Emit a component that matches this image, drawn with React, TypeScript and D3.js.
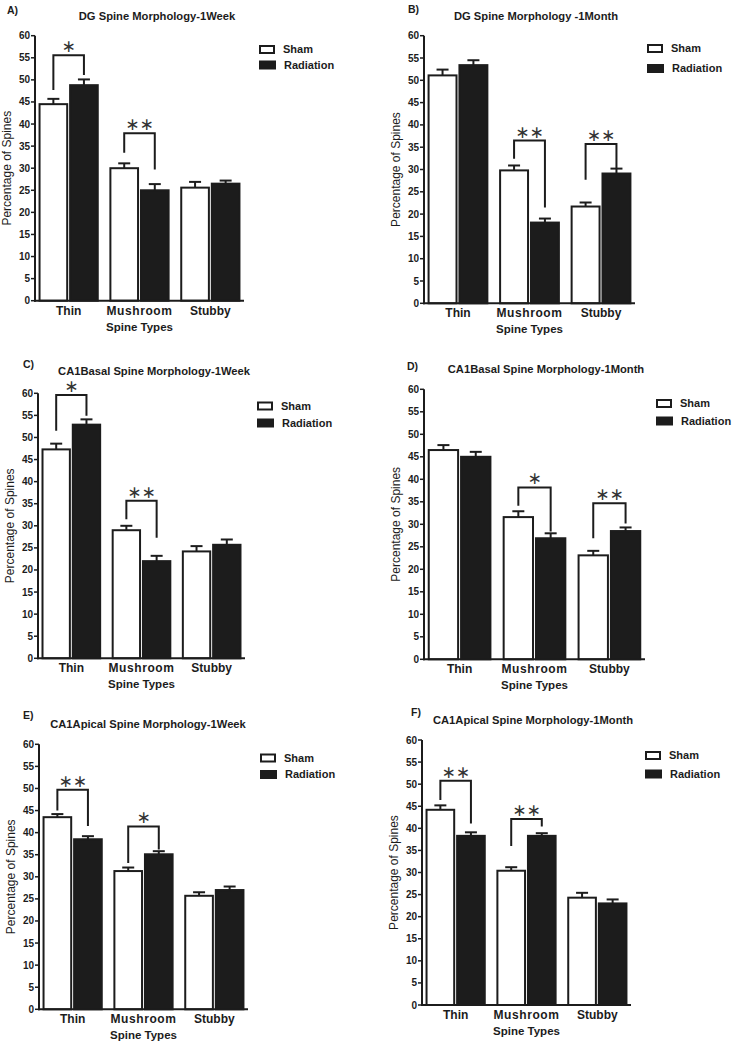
import React from 'react';
import * as d3 from 'd3';

// ---------- data ----------
const categories = ['Thin', 'Mushroom', 'Stubby'];
const seriesNames = ['Sham', 'Radiation'];
const yTicks = [0, 5, 10, 15, 20, 25, 30, 35, 40, 45, 50, 55, 60];

// A) DG 1 week
const dgWeekSham = [44.5, 30.0, 25.6];
const dgWeekShamErr = [1.2, 1.1, 1.3];
const dgWeekRad = [48.8, 25.0, 26.5];
const dgWeekRadErr = [1.3, 1.4, 0.7];
// B) DG 1 month
const dgMonthSham = [51.1, 29.8, 21.7];
const dgMonthShamErr = [1.3, 1.1, 0.9];
const dgMonthRad = [53.4, 18.1, 29.1];
const dgMonthRadErr = [1.1, 0.9, 1.1];
// C) CA1 basal 1 week
const basalWeekSham = [47.3, 29.0, 24.2];
const basalWeekShamErr = [1.3, 1.0, 1.2];
const basalWeekRad = [52.9, 22.0, 25.7];
const basalWeekRadErr = [1.2, 1.2, 1.2];
// D) CA1 basal 1 month
const basalMonthSham = [46.5, 31.6, 23.1];
const basalMonthShamErr = [1.1, 1.3, 1.0];
const basalMonthRad = [45.0, 26.9, 28.5];
const basalMonthRadErr = [1.1, 1.1, 0.8];
// E) CA1 apical 1 week
const apicalWeekSham = [43.5, 31.3, 25.7];
const apicalWeekShamErr = [0.7, 0.8, 0.8];
const apicalWeekRad = [38.5, 35.1, 27.0];
const apicalWeekRadErr = [0.7, 0.7, 0.8];
// F) CA1 apical 1 month
const apicalMonthSham = [44.2, 30.4, 24.3];
const apicalMonthShamErr = [1.0, 0.8, 1.1];
const apicalMonthRad = [38.3, 38.3, 23.0];
const apicalMonthRadErr = [0.8, 0.6, 0.9];

// significance brackets: [category, bracket top, left leg end, right leg end, stars]
const dgWeekSig: [string, number, number, number, string][] = [
  ['Thin', 55.6, 47.7, 51.1, '∗'],
  ['Mushroom', 37.9, 33.5, 29.7, '∗∗'],
];
const dgMonthSig: [string, number, number, number, string][] = [
  ['Mushroom', 36.5, 32.4, 21.5, '∗∗'],
  ['Stubby', 35.7, 27.7, 30.1, '∗∗'],
];
const basalWeekSig: [string, number, number, number, string][] = [
  ['Thin', 59.6, 51.5, 54.9, '∗'],
  ['Mushroom', 35.7, 31.5, 27.3, '∗∗'],
];
const basalMonthSig: [string, number, number, number, string][] = [
  ['Mushroom', 38.2, 34.1, 28.4, '∗'],
  ['Stubby', 34.7, 26.9, 30.2, '∗∗'],
];
const apicalWeekSig: [string, number, number, number, string][] = [
  ['Thin', 49.7, 45.0, 41.5, '∗∗'],
  ['Mushroom', 41.4, 33.1, 36.2, '∗'],
];
const apicalMonthSig: [string, number, number, number, string][] = [
  ['Thin', 50.8, 46.4, 41.1, '∗∗'],
  ['Mushroom', 42.1, 36.0, 40.4, '∗∗'],
];

// ---------- layout ----------
const panels = [
  { tag: 'A)', title: 'DG Spine Morphology-1Week', sham: dgWeekSham, shamErr: dgWeekShamErr, rad: dgWeekRad, radErr: dgWeekRadErr, sig: dgWeekSig,
    axisX: 35, right: 244, top: 35.7, bottom: 300.7, titleX: 157, titleDy: 16, tagX: 7, tagY: 14, legX: 259, legY1: 49.5, legY2: 65 },
  { tag: 'B)', title: 'DG Spine Morphology -1Month', sham: dgMonthSham, shamErr: dgMonthShamErr, rad: dgMonthRad, radErr: dgMonthRadErr, sig: dgMonthSig,
    axisX: 424, right: 635, top: 35.7, bottom: 303.3, titleX: 536, titleDy: 16, tagX: 408, tagY: 13, legX: 647, legY1: 48.5, legY2: 68.5 },
  { tag: 'C)', title: 'CA1Basal Spine Morphology-1Week', sham: basalWeekSham, shamErr: basalWeekShamErr, rad: basalWeekRad, radErr: basalWeekRadErr, sig: basalWeekSig,
    axisX: 38, right: 245, top: 393.3, bottom: 658.3, titleX: 154, titleDy: 18, tagX: 23, tagY: 368, legX: 257, legY1: 406, legY2: 423 },
  { tag: 'D)', title: 'CA1Basal Spine Morphology-1Month', sham: basalMonthSham, shamErr: basalMonthShamErr, rad: basalMonthRad, radErr: basalMonthRadErr, sig: basalMonthSig,
    axisX: 424, right: 645, top: 389.3, bottom: 659.3, titleX: 546, titleDy: 16, tagX: 407, tagY: 370, legX: 656, legY1: 403.5, legY2: 421 },
  { tag: 'E)', title: 'CA1Apical Spine Morphology-1Week', sham: apicalWeekSham, shamErr: apicalWeekShamErr, rad: apicalWeekRad, radErr: apicalWeekRadErr, sig: apicalWeekSig,
    axisX: 39, right: 248, top: 744.3, bottom: 1009.3, titleX: 148, titleDy: 16, tagX: 23, tagY: 719, legX: 260, legY1: 758, legY2: 774.5 },
  { tag: 'F)', title: 'CA1Apical Spine Morphology-1Month', sham: apicalMonthSham, shamErr: apicalMonthShamErr, rad: apicalMonthRad, radErr: apicalMonthRadErr, sig: apicalMonthSig,
    axisX: 422, right: 631, top: 740, bottom: 1005, titleX: 533, titleDy: 16, tagX: 411, tagY: 716, legX: 645, legY1: 755.5, legY2: 774 },
];

const FONT = '"Liberation Sans", Arial, Helvetica, sans-serif';
const INK = '#1c1c1c';

function Panel({ p }: { p: (typeof panels)[number] }) {
  const x = d3.scaleBand<string>().domain(categories).range([p.axisX, p.right]).paddingInner(0.15).paddingOuter(0.05);
  const xi = d3.scaleBand<string>().domain(seriesNames).range([0, x.bandwidth()]).paddingInner(0.03);
  const y = d3.scaleLinear().domain([0, 60]).range([p.bottom, p.top]);
  const series = [
    { name: 'Sham', vals: p.sham, errs: p.shamErr },
    { name: 'Radiation', vals: p.rad, errs: p.radErr },
  ];
  const center = (cat: string, s: string) => (x(cat) as number) + (xi(s) as number) + xi.bandwidth() / 2;
  const midX = (p.axisX + p.right) / 2;
  const midY = (p.top + p.bottom) / 2;
  return (
    <g>
      <text x={p.tagX} y={p.tagY} fontSize={10.5} fontWeight="bold" fontFamily={FONT} fill={INK}>{p.tag}</text>
      <text x={p.titleX} y={p.top - p.titleDy} textAnchor="middle" fontSize={11.2} fontWeight="bold" fontFamily={FONT} fill={INK}>{p.title}</text>
      {/* bars */}
      {series.map((s) =>
        categories.map((c, i) => {
          const bx = (x(c) as number) + (xi(s.name) as number);
          const w = xi.bandwidth();
          const isSham = s.name === 'Sham';
          return (
            <rect key={s.name + c} x={bx + 1} y={y(s.vals[i])} width={w - 2} height={p.bottom - y(s.vals[i])}
              fill={isSham ? '#fff' : INK} stroke={INK} strokeWidth={2} />
          );
        })
      )}
      {/* error bars */}
      {series.map((s) =>
        categories.map((c, i) => {
          const cx = center(c, s.name);
          const y1 = y(s.vals[i]);
          const y2 = y(s.vals[i] + s.errs[i]);
          return (
            <g key={'e' + s.name + c} stroke={INK} strokeWidth={2}>
              <line x1={cx} x2={cx} y1={y1} y2={y2} />
              <line x1={cx - 6} x2={cx + 6} y1={y2} y2={y2} />
            </g>
          );
        })
      )}
      {/* axes */}
      <line x1={p.axisX} x2={p.axisX} y1={p.bottom + 1} y2={p.top} stroke={INK} strokeWidth={2} />
      <line x1={p.axisX - 1} x2={p.right} y1={p.bottom} y2={p.bottom} stroke={INK} strokeWidth={2} />
      {yTicks.map((t) => (
        <g key={t}>
          <line x1={p.axisX - 4} x2={p.axisX} y1={y(t)} y2={y(t)} stroke={INK} strokeWidth={1.5} />
          <text x={p.axisX - 5} y={y(t)} dy="0.35em" textAnchor="end" fontSize={10} fontWeight="bold" fontFamily={FONT} fill={INK}>{t}</text>
        </g>
      ))}
      {categories.map((c) => (
        <text key={c} x={(x(c) as number) + x.bandwidth() / 2} y={p.bottom + 14} textAnchor="middle" fontSize={12} fontWeight="bold"
          letterSpacing={c === 'Mushroom' ? 0.6 : 0} fontFamily={FONT} fill={INK}>{c}</text>
      ))}
      <text x={midX} y={p.bottom + 30} textAnchor="middle" fontSize={11.5} fontWeight="bold" fontFamily={FONT} fill={INK}>Spine Types</text>
      <text transform={`translate(${p.axisX - 28},${midY}) rotate(-90)`} textAnchor="middle" dy="0.35em" fontSize={12} fontFamily={FONT} fill={INK}>Percentage of Spines</text>
      {/* significance */}
      {p.sig.map(([cat, top, l, r, stars]) => {
        const xl = center(cat, 'Sham');
        const xr = center(cat, 'Radiation');
        const xm = (xl + xr) / 2;
        return (
          <g key={'s' + cat}>
            <path d={`M${xl},${y(l)}V${y(top)}H${xr}V${y(r)}`} fill="none" stroke={INK} strokeWidth={2} />
            <text x={xm} y={y(top) - 9} textAnchor="middle" dominantBaseline="central" fontSize={17}
              fontFamily='"DejaVu Sans", sans-serif' fill="#333">{stars}</text>
          </g>
        );
      })}
      {/* legend */}
      <rect x={p.legX + 1} y={p.legY1 - 3.5} width={14} height={7} fill="#fff" stroke={INK} strokeWidth={2} />
      <text x={p.legX + 24} y={p.legY1} dy="0.35em" fontSize={11} fontWeight="bold" fontFamily={FONT} fill={INK}>Sham</text>
      <rect x={p.legX} y={p.legY2 - 4.5} width={17} height={9} fill={INK} />
      <text x={p.legX + 25} y={p.legY2} dy="0.35em" fontSize={11} fontWeight="bold" fontFamily={FONT} fill={INK}>Radiation</text>
    </g>
  );
}

export default function App() {
  return (
    <svg width={737} height={1042} viewBox="0 0 737 1042" style={{ position: 'absolute', left: 0, top: 0, background: '#fff' }}>
      <rect x={0} y={0} width={737} height={1042} fill="#fff" />
      {panels.map((p) => (
        <Panel key={p.tag} p={p} />
      ))}
    </svg>
  );
}
